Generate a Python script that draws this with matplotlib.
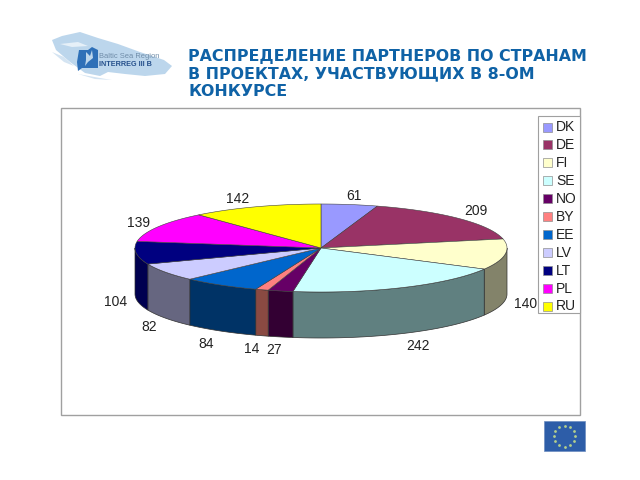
import numpy as np
import matplotlib
matplotlib.use('Agg')
import matplotlib.pyplot as plt
from matplotlib.patches import Polygon, Rectangle

countries = ['DK', 'DE', 'FI', 'SE', 'NO', 'BY', 'EE', 'LV', 'LT', 'PL', 'RU']
partners = [61, 209, 140, 242, 27, 14, 84, 82, 104, 139, 142]
title_lines = ['РАСПРЕДЕЛЕНИЕ ПАРТНЕРОВ ПО СТРАНАМ',
               'В ПРОЕКТАХ, УЧАСТВУЮЩИХ В 8-ОМ',
               'КОНКУРСЕ']

top_colors = ['#9999FF', '#993366', '#FFFFCC', '#CCFFFF', '#660066', '#FF8080',
              '#0066CC', '#CCCCFF', '#000080', '#FF00FF', '#FFFF00']
side_colors = ['#666699', '#662244', '#83836A', '#608080', '#330033', '#8A4A42',
               '#003366', '#666680', '#000050', '#800080', '#808000']
# label centres in pixels, same order as the countries
label_xy = [(354, 196), (476, 211), (526, 304), (418, 346), (274, 350), (252, 349),
            (206, 344), (149, 327), (116, 302), (139, 223), (238, 199)]

cx, cy, rx, ry, depth = 321, 248, 186, 44, 46

fig = plt.figure(figsize=(6.4, 4.8), dpi=100)
ax = fig.add_axes([0, 0, 1, 1])
ax.set_xlim(0, 640)
ax.set_ylim(480, 0)
ax.axis('off')

# chart frame
ax.add_patch(Rectangle((61, 108), 519, 307, fc='white', ec='#a0a0a0', lw=1.0))


def rim(a, b):
    # points on the top ellipse, angles clockwise from twelve o'clock
    t = np.radians(np.linspace(a, b, max(int(abs(b - a)) * 2, 2)))
    return cx + rx * np.sin(t), cy - ry * np.cos(t)


edges = np.cumsum([0] + partners) / sum(partners) * 360

# sides first, only the front half is visible
for i in range(len(partners)):
    a = max(edges[i], 90)
    b = min(edges[i + 1], 270)
    if a >= b:
        continue
    x, y = rim(a, b)
    pts = np.r_[np.c_[x, y], np.c_[x[::-1], y[::-1] + depth]]
    ax.add_patch(Polygon(pts, fc=side_colors[i], ec='#303030', lw=0.5))

for i in range(len(partners)):
    x, y = rim(edges[i], edges[i + 1])
    pts = np.r_[[[cx, cy]], np.c_[x, y]]
    ax.add_patch(Polygon(pts, fc=top_colors[i], ec='#404040', lw=0.4))

for v, (lx, ly) in zip(partners, label_xy):
    ax.text(lx, ly, str(v), ha='center', va='center', fontsize=10,
            family='Liberation Sans', color='#222222')

# legend
ax.add_patch(Rectangle((538, 116), 42, 197, fc='white', ec='#a0a0a0', lw=0.8))
for i, name in enumerate(countries):
    ly = 127 + i * 17.95
    ax.add_patch(Rectangle((543, ly - 4.5), 9, 9, fc=top_colors[i], ec='#909090', lw=0.5))
    ax.text(556, ly, name, ha='left', va='center', fontsize=10,
            family='Liberation Sans', color='#222222')

# title
for i, line in enumerate(title_lines):
    ax.text(188, 56 + i * 18, line, ha='left', va='center', fontsize=11.4,
            family='DejaVu Sans', fontweight='bold', color='#0F62A6')

# logo
blob = [(52, 40), (62, 36), (80, 32), (98, 38), (118, 44), (140, 52), (164, 60), (172, 66),
        (165, 74), (145, 76), (125, 74), (108, 72), (100, 76), (85, 73), (70, 62), (56, 50)]
ax.add_patch(Polygon(blob, fc='#BCD6EC', ec='none'))
ax.add_patch(Polygon([(52, 52), (64, 57), (74, 66), (64, 62)], fc='#D4E4F2', ec='none'))
ax.add_patch(Polygon([(78, 74), (100, 78), (112, 80), (95, 79)], fc='#D4E4F2', ec='none'))
ax.add_patch(Polygon([(60, 44), (78, 42), (88, 46), (72, 47)], fc='#E6F0F8', ec='none'))
ax.add_patch(Polygon([(79, 50), (88, 50), (92, 47), (98, 50), (98, 68), (82, 68), (78, 71),
                      (77, 62)], fc='#2E70B8', ec='none'))
ax.add_patch(Polygon([(86, 52), (90, 56), (92, 50), (93, 58), (88, 62), (85, 66), (86, 60)],
                     fc='#BCD6EC', ec='none'))
ax.text(99, 56, 'Baltic Sea Region', fontsize=5.4, va='center', color='#6F8CA8',
        family='Liberation Sans')
ax.text(99, 65, 'INTERREG III B', fontsize=5.2, va='center', color='#25508C',
        family='Liberation Sans', fontweight='bold')

# EU flag
ax.add_patch(Rectangle((544, 421), 41, 30, fc='#2D5DA8', ec='#6C8DBF', lw=0.5))
star_t = np.radians(np.arange(12) * 30)
ax.scatter(564.5 + 10.5 * np.sin(star_t), 436 - 10.5 * np.cos(star_t), s=4, c='#B4CF8C',
           marker='o', linewidths=0)

fig.savefig('out.png', dpi=100)
plt.close(fig)
